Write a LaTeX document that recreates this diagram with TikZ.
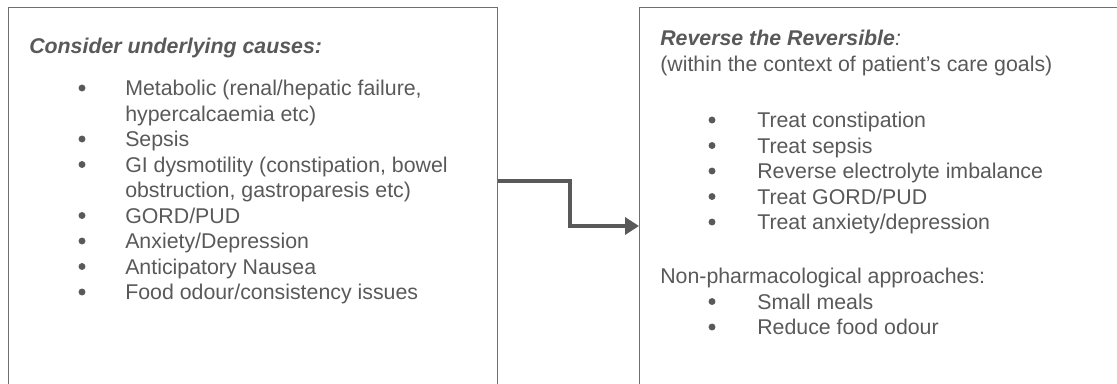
\documentclass[tikz,border=0pt]{standalone}
\usepackage{fontspec}
\setmainfont{Liberation Sans}
\usetikzlibrary{arrows.meta}
\definecolor{textgray}{HTML}{595959}
\definecolor{framegray}{HTML}{707070}

\begin{document}
\begin{tikzpicture}[x=0.75pt, y=-0.75pt,
    panel/.style={draw=framegray, line width=0.75pt, anchor=north west, inner sep=0pt,
      minimum width=#1, minimum height=315pt},
    txt/.style={anchor=base west, inner sep=0pt, text=textgray, font=\fontsize{16}{19.1}\selectfont},
    head/.style={txt, font=\fontsize{16}{19.1}\selectfont\bfseries\itshape},
    flow/.style={draw=textgray, line width=2.6pt, -{Triangle[length=10.5pt,width=12.75pt]}}]
    \useasboundingbox (0,0) rectangle (1117,383);
    \clip (0,0) rectangle (1117,383);

    % Left panel: underlying causes
    \node[panel=366.75pt] (causes) at (8,7) {};
    \node[head] (causeshead) at (29,53.5) {Consider underlying causes:};
    \node[txt] (metabolic) at (125,95.5) {Metabolic (renal/hepatic failure,};
    \node[txt] (metabolic2) at (125,121) {hypercalcaemia etc)};
    \node[txt] (sepsis) at (125,146.5) {Sepsis};
    \node[txt] (dysmotility) at (125,172) {GI dysmotility (constipation, bowel};
    \node[txt] (dysmotility2) at (125,197.5) {obstruction, gastroparesis etc)};
    \node[txt] (gord) at (125,223) {GORD/PUD};
    \node[txt] (anxiety) at (125,248.5) {Anxiety/Depression};
    \node[txt] (nausea) at (125,274) {Anticipatory Nausea};
    \node[txt] (odour) at (125,299.5) {Food odour/consistency issues};
    \foreach \n in {metabolic,sepsis,dysmotility,gord,anxiety,nausea,odour}
      \fill[textgray] (\n.base west) ++(-43,-7.5) circle (2.6pt);

    % Right panel: reverse the reversible
    \node[panel=390pt] (reverse) at (639,7) {};
    \node[head] (revhead) at (660,45.5) {Reverse the Reversible\textmd{:}};
    \node[txt] (context) at (660,71) {(within the context of patient’s care goals)};
    \node[txt] (constip) at (757,127.5) {Treat constipation};
    \node[txt] (sepsistx) at (757,153) {Treat sepsis};
    \node[txt] (electro) at (757,178.5) {Reverse electrolyte imbalance};
    \node[txt] (gordtx) at (757,204) {Treat GORD/PUD};
    \node[txt] (anxtx) at (757,229.5) {Treat anxiety/depression};
    \node[txt] (nonpharm) at (660,283) {Non-pharmacological approaches:};
    \node[txt] (meals) at (757,309) {Small meals};
    \node[txt] (odourtx) at (757,334.5) {Reduce food odour};
    \foreach \n in {constip,sepsistx,electro,gordtx,anxtx,meals,odourtx}
      \fill[textgray] (\n.base west) ++(-45,-7.5) circle (2.6pt);

    % Connector
    \draw[flow] (causes.east |- 0,181) -- ++(72,0) |- (reverse.west |- 0,226);
\end{tikzpicture}
\end{document}
